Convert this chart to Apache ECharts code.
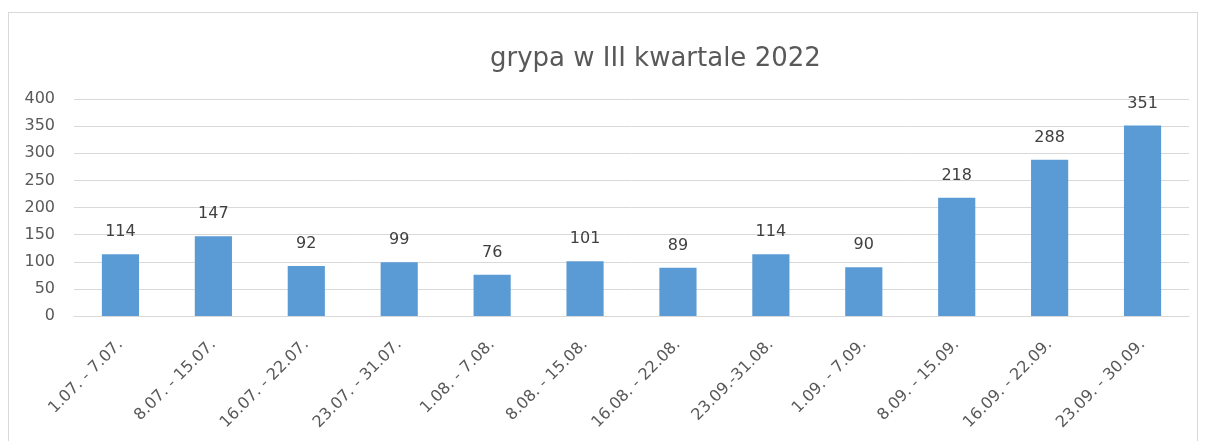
<!DOCTYPE html>
<html><head><meta charset="utf-8">
<script src="https://cdn.jsdelivr.net/npm/echarts@6/dist/echarts.min.js"></script>
<style>
html,body{margin:0;padding:0;background:#fff;}
#frame{position:absolute;left:8px;top:12px;width:1190px;height:440px;border:1px solid #d9d9d9;box-sizing:border-box;}
#c{position:absolute;left:0;top:0;width:1206px;height:441px;}
</style></head>
<body>
<div id="frame"></div>
<div id="c"></div>
<script>
const titleText = 'grypa w III kwartale 2022';
const categories = ['1.07. - 7.07.','8.07. - 15.07.','16.07. - 22.07.','23.07. - 31.07.','1.08. - 7.08.','8.08. - 15.08.','16.08. - 22.08.','23.09.-31.08.','1.09. - 7.09.','8.09. - 15.09.','16.09. - 22.09.','23.09. - 30.09.'];
const values = [114,147,92,99,76,101,89,114,90,218,288,351];
const yTicks = {min:0, max:400, interval:50};

const chart = echarts.init(document.getElementById('c'), null, {renderer:'canvas'});
const font = '"DejaVu Sans", sans-serif';
chart.setOption({
  backgroundColor:'transparent',
  animation:false,
  title:{text:titleText,left:485,top:41,textStyle:{color:'#595959',fontSize:26,fontWeight:'normal',fontFamily:font}},
  grid:{left:74,right:17,top:99,bottom:125,containLabel:false},
  xAxis:{type:'category',data:categories,
    axisLine:{lineStyle:{color:'#d9d9d9'}},axisTick:{show:false},
    axisLabel:{rotate:45,interval:0,color:'#595959',fontSize:16,fontFamily:font,margin:26}},
  yAxis:{type:'value',min:yTicks.min,max:yTicks.max,interval:yTicks.interval,
    axisLine:{show:false},axisTick:{show:false},
    splitLine:{lineStyle:{color:'#d9d9d9'}},
    axisLabel:{color:'#595959',fontSize:16,fontFamily:font,margin:19}},
  series:[{type:'bar',data:values,barWidth:'40%',itemStyle:{color:'#5b9bd5'},
    label:{show:true,position:'top',distance:14,color:'#404040',fontSize:16,fontFamily:font}}]
});
</script>
</body></html>
